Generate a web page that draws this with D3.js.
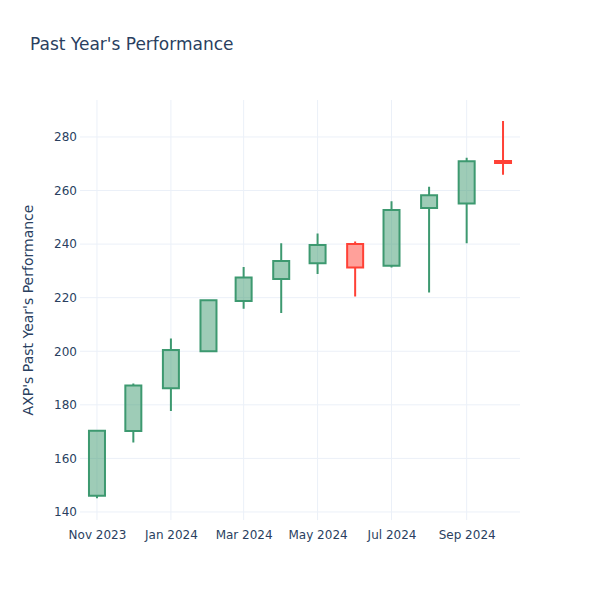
<!DOCTYPE html>
<html>
<head>
<meta charset="utf-8">
<script src="https://cdn.jsdelivr.net/npm/d3@7"></script>
<style>
  body { margin: 0; background: #fff; }
  svg { display: block; font-family: "DejaVu Sans", "Open Sans", sans-serif; }
</style>
</head>
<body>
<svg id="chart" width="600" height="600"></svg>
<script>
// Monthly candles (date = month start)
const dates  = ["2023-11-01","2023-12-01","2024-01-01","2024-02-01","2024-03-01","2024-04-01",
                "2024-05-01","2024-06-01","2024-07-01","2024-08-01","2024-09-01","2024-10-01"];
const opens  = [146.1, 170.2, 186.2, 200.0, 218.8, 227.0, 232.9, 240.0, 231.9, 253.5, 255.2, 271.0];
const highs  = [170.5, 188.0, 204.8, 219.3, 231.5, 240.3, 244.0, 241.0, 256.0, 261.4, 272.2, 286.0];
const lows   = [145.1, 165.9, 177.7, 200.0, 215.9, 214.3, 228.8, 220.4, 231.3, 221.9, 240.3, 265.9];
const closes = [170.3, 187.2, 200.5, 219.0, 227.5, 233.7, 239.7, 231.3, 252.7, 258.2, 270.9, 270.3];
const yTicks = [140, 160, 180, 200, 220, 240, 260, 280];
const xTickDates = ["2023-11-01","2024-01-01","2024-03-01","2024-05-01","2024-07-01","2024-09-01"];

const title = "Past Year's Performance";
const yTitle = "AXP's Past Year's Performance";

const parse = d3.utcParse("%Y-%m-%d");
const data = dates.map((d, i) => ({
  date: parse(d), open: opens[i], high: highs[i], low: lows[i], close: closes[i]
}));

const W = 600, H = 600;
const m = { l: 80, r: 80, t: 100, b: 80 };
const svg = d3.select("#chart");

const x = d3.scaleUtc()
  .domain([parse("2023-10-18"), parse("2024-10-15")])
  .range([m.l, W - m.r]);
const y = d3.scaleLinear()
  .domain([137.0, 293.8])
  .range([H - m.b, m.t]);

const grid = "#EBF0F8", textCol = "#2a3f5f";

// gridlines
svg.append("g").selectAll("line").data(yTicks).join("line")
  .attr("x1", m.l).attr("x2", W - m.r)
  .attr("y1", d => y(d)).attr("y2", d => y(d))
  .attr("stroke", grid).attr("stroke-width", 1);
svg.append("g").selectAll("line").data(xTickDates.map(parse)).join("line")
  .attr("y1", m.t).attr("y2", H - m.b)
  .attr("x1", d => x(d)).attr("x2", d => x(d))
  .attr("stroke", grid).attr("stroke-width", 1);

// axes
const yAxis = d3.axisLeft(y).tickValues(yTicks).tickSize(0).tickPadding(3);
const gy = svg.append("g").attr("transform", `translate(${m.l},0)`).call(yAxis);
gy.select(".domain").remove();
gy.selectAll("text").attr("fill", textCol).style("font-size", "12px")
  .style("font-family", "'DejaVu Sans', sans-serif");

const xAxis = d3.axisBottom(x).tickValues(xTickDates.map(parse))
  .tickFormat(d3.utcFormat("%b %Y")).tickSize(0).tickPadding(10);
const gx = svg.append("g").attr("transform", `translate(0,${H - m.b})`).call(xAxis);
gx.select(".domain").remove();
gx.selectAll("text").attr("fill", textCol).style("font-size", "12px")
  .style("font-family", "'DejaVu Sans', sans-serif");

// candles
const inc = "#3D9970", dec = "#FF4136";
const incFill = "rgba(61,153,112,0.5)", decFill = "rgba(255,65,54,0.5)";
const halfDays = 6.6 * 24 * 3600 * 1000;

const g = svg.append("g");
data.forEach(d => {
  const up = d.close >= d.open;
  const col = up ? inc : dec;
  const cx = x(d.date);
  const x0 = x(new Date(d.date.getTime() - halfDays));
  const x1 = x(new Date(d.date.getTime() + halfDays));
  const yt = y(Math.max(d.open, d.close));
  const yb = y(Math.min(d.open, d.close));
  const path = `M${x0},${yb}H${x1}V${yt}H${x0}Z` +
               `M${cx},${yb}V${y(d.low)}` +
               `M${cx},${yt}V${y(d.high)}`;
  g.append("path").attr("d", path)
    .attr("fill", up ? incFill : decFill)
    .attr("stroke", col).attr("stroke-width", 2);
});

// titles
svg.append("text").attr("x", 30).attr("y", 50)
  .attr("fill", textCol).style("font-size", "17px").text(title);
svg.append("text")
  .attr("transform", `translate(33,${(m.t + H - m.b) / 2}) rotate(-90)`)
  .attr("text-anchor", "middle")
  .attr("fill", textCol).style("font-size", "14px").text(yTitle);
</script>
</body>
</html>
